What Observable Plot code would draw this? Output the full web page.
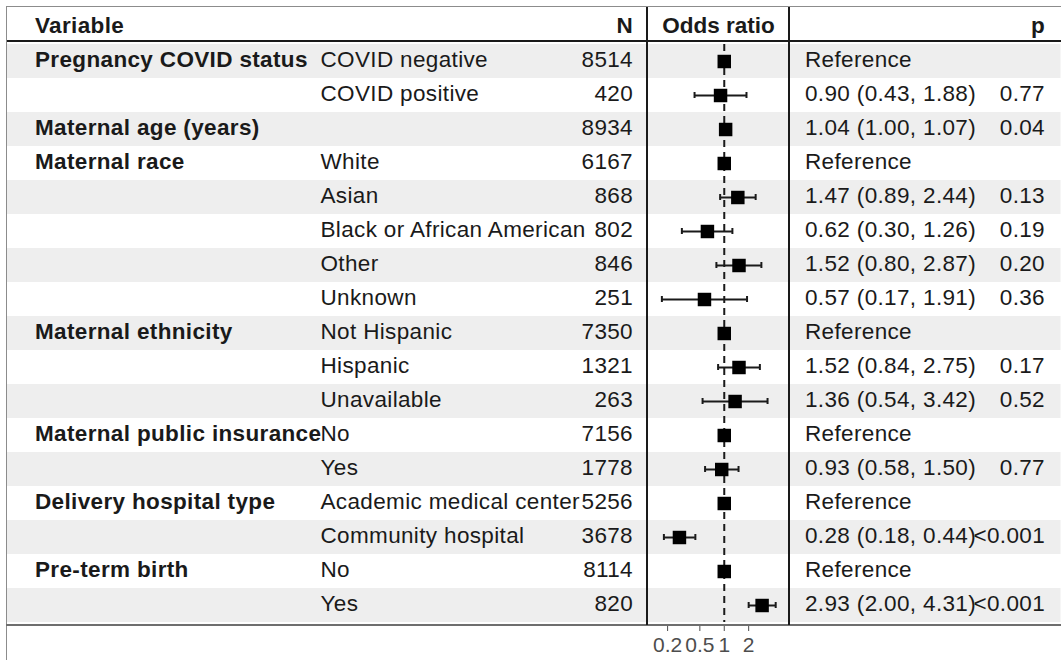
<!DOCTYPE html>
<html>
<head>
<meta charset="utf-8">
<script src="https://cdn.jsdelivr.net/npm/d3@7"></script>
<script src="https://cdn.jsdelivr.net/npm/@observablehq/plot@0.6"></script>
<style>
  html, body { margin: 0; padding: 0; background: #fff; overflow: hidden; }
  body { font-family: "Liberation Sans", Arial, Helvetica, sans-serif; }
  #table { position: absolute; left: 6px; top: 6px; width: 1053.5px;
           border-top: 1.5px solid #8c8c8c; border-left: 1.5px solid #8c8c8c; }
  #cols { display: flex; align-items: flex-start; }
  #cols > svg { flex: none; }
  .line { position: absolute; }
</style>
</head>
<body>
<div id="table"><div id="cols"></div></div>
<script>
// ---- data ----
const groups = ["Pregnancy COVID status", "", "Maternal age (years)", "Maternal race", "", "", "", "",
  "Maternal ethnicity", "", "", "Maternal public insurance", "", "Delivery hospital type", "", "Pre-term birth", ""];
const levels = ["COVID negative", "COVID positive", "", "White", "Asian", "Black or African American", "Other", "Unknown",
  "Not Hispanic", "Hispanic", "Unavailable", "No", "Yes", "Academic medical center", "Community hospital", "No", "Yes"];
const counts = [8514, 420, 8934, 6167, 868, 802, 846, 251, 7350, 1321, 263, 7156, 1778, 5256, 3678, 8114, 820];
const estimates = [1, 0.90, 1.04, 1, 1.47, 0.62, 1.52, 0.57, 1, 1.52, 1.36, 1, 0.93, 1, 0.28, 1, 2.93];
const lower = [null, 0.43, 1.00, null, 0.89, 0.30, 0.80, 0.17, null, 0.84, 0.54, null, 0.58, null, 0.18, null, 2.00];
const upper = [null, 1.88, 1.07, null, 2.44, 1.26, 2.87, 1.91, null, 2.75, 3.42, null, 1.50, null, 0.44, null, 4.31];
const pValues = ["", "0.77", "0.04", "", "0.13", "0.19", "0.20", "0.36", "", "0.17", "0.52", "", "0.77", "", "<0.001", "", "<0.001"];
const headers = {variable: "Variable", n: "N", or: "Odds ratio", p: "p"};
const axisTicks = [0.2, 0.5, 1, 2];
const orDomain = [0.113, 6.38];

// ---- build table rows ----
const fmt = d3.format(".2f");
const rows = levels.map((lv, i) => ({
  id: "r" + i,
  group: groups[i],
  level: lv,
  n: String(counts[i]),
  est: estimates[i],
  lo: lower[i],
  hi: upper[i],
  p: pValues[i],
  label: lower[i] == null ? "Reference" : `${fmt(estimates[i])} (${fmt(lower[i])}, ${fmt(upper[i])})`
}));
const ciRows = rows.filter(d => d.lo != null);
const yDomain = ["header", ...rows.map(d => d.id)];
const rowH = 34.33;
const tableH = Math.round(rowH * yDomain.length);
const ink = "#1a1a1a";
const FS = 22.5;
const LS = "0.35px";
const DY = -1.5;
const stripeRows = rows.filter((d, i) => i % 2 === 0);
const widths = {variable: 309, level: 330, or: 144, est: 270.5};

function column({width, marks, x, marginLeft = 0, marginRight = 0, marginBottom = 0, style = {}}) {
  return Plot.plot({
    width,
    height: tableH + marginBottom,
    marginTop: 0, marginBottom, marginLeft, marginRight,
    y: {type: "band", domain: yDomain, padding: 0, axis: null},
    x,
    style: {background: "transparent", overflow: "visible",
            fontFamily: '"Liberation Sans", Arial, sans-serif', letterSpacing: LS, ...style},
    marks: [Plot.cell(stripeRows, {y: "id", fill: "#eeeeee"}), ...marks]
  });
}
const hdr = (t) => [t];
const headerY = () => "header";

const colVar = column({
  width: widths.variable,
  marks: [
    Plot.text(hdr(headers.variable), {y: headerY, text: d => d, frameAnchor: "left", textAnchor: "start", dx: 27.5, dy: DY,
      fontWeight: "bold", fontSize: FS, fill: ink}),
    Plot.text(rows, {y: "id", text: "group", frameAnchor: "left", textAnchor: "start", dx: 27.5, dy: DY,
      fontWeight: "bold", fontSize: FS, fill: ink})
  ]
});

const colLevel = column({
  width: widths.level,
  marks: [
    Plot.text(hdr(headers.n), {y: headerY, text: d => d, frameAnchor: "right", textAnchor: "end", dx: -13.5, dy: DY,
      fontWeight: "bold", fontSize: FS, fill: ink}),
    Plot.text(rows, {y: "id", text: "level", frameAnchor: "left", textAnchor: "start", dx: 4, dy: DY, fontSize: FS, fill: ink}),
    Plot.text(rows, {y: "id", text: "n", frameAnchor: "right", textAnchor: "end", dx: -13.5, dy: DY, fontSize: FS, fill: ink})
  ]
});

const colOR = column({
  width: widths.or,
  marginLeft: 1, marginRight: 1, marginBottom: 40,
  x: {type: "log", domain: orDomain, ticks: axisTicks, tickFormat: d => String(d), tickSize: 6, tickPadding: 6, label: null},
  style: {fontSize: "21px", color: "#4d4d4d", letterSpacing: "0px"},
  marks: [
    Plot.ruleX([1], {y1: () => "r0", y2: () => "r" + (rows.length - 1), stroke: ink, strokeWidth: 2, strokeDasharray: "7,5"}),
    Plot.ruleY(ciRows, {y: "id", x1: "lo", x2: "hi", stroke: ink, strokeWidth: 2}),
    Plot.tickX(ciRows, {y: "id", x: "lo", stroke: ink, strokeWidth: 2, insetTop: 14, insetBottom: 14}),
    Plot.tickX(ciRows, {y: "id", x: "hi", stroke: ink, strokeWidth: 2, insetTop: 14, insetBottom: 14}),
    Plot.dot(rows, {y: "id", x: "est", symbol: "square", r: 7.6, fill: "#000", stroke: "none"}),
    Plot.text(hdr(headers.or), {y: headerY, text: d => d, dy: DY, fontWeight: "bold", fontSize: FS, fill: ink})
  ]
});

const colEst = column({
  width: widths.est,
  marks: [
    Plot.text(hdr(headers.p), {y: headerY, text: d => d, frameAnchor: "right", textAnchor: "end", dx: -16, dy: DY,
      fontWeight: "bold", fontSize: FS, fill: ink}),
    Plot.text(rows, {y: "id", text: "label", frameAnchor: "left", textAnchor: "start", dx: 14.5, dy: DY, fontSize: FS, fill: ink}),
    Plot.text(rows, {y: "id", text: "p", frameAnchor: "right", textAnchor: "end", dx: -16, dy: DY, fontSize: FS, fill: ink})
  ]
});

const cols = document.getElementById("cols");
[colVar, colLevel, colOR, colEst].forEach(el => cols.appendChild(el));

// table rules (layout lines)
const table = document.getElementById("table");
function addLine(css) {
  const el = document.createElement("div");
  el.className = "line";
  Object.assign(el.style, css);
  table.appendChild(el);
}
const orLeft = widths.variable + widths.level + 1;          // frame left edge of the odds-ratio panel
const orRight = widths.variable + widths.level + widths.or - 1;
addLine({left: "0px", right: "0px", top: (tableH / yDomain.length - 1) + "px", height: "2px", background: ink});
addLine({left: "-1.5px", right: "0px", top: (tableH - 0.75) + "px", height: "1.5px", background: "#6e6e6e"});
addLine({left: (orLeft - 1) + "px", width: "2px", top: "0px", height: tableH + "px", background: ink});
addLine({left: (orRight - 1) + "px", width: "2px", top: "0px", height: tableH + "px", background: ink});
</script>
</body>
</html>
